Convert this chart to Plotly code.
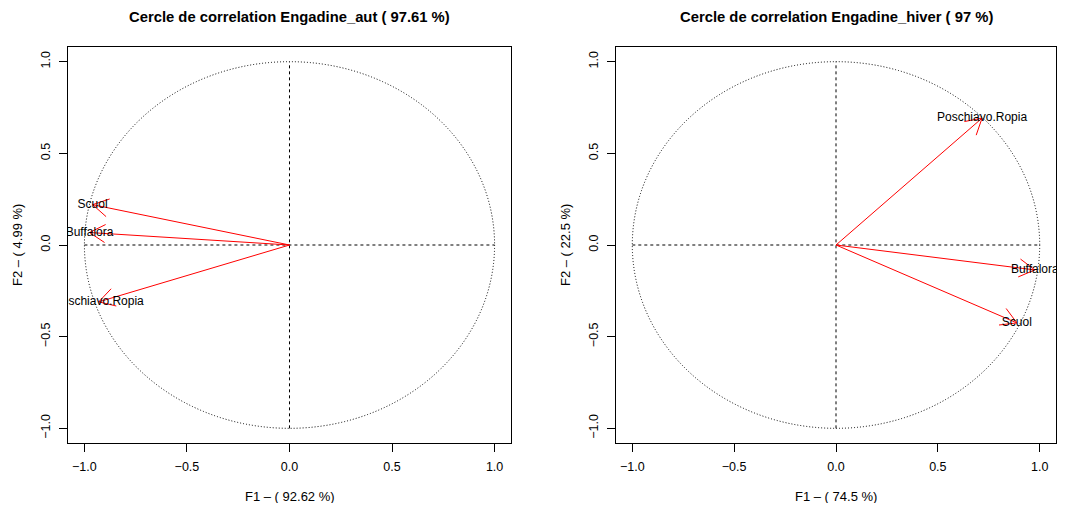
import math
import plotly.graph_objects as go

# correlations of the variables with F1 / F2
stations_aut = ["Scuol", "Buffalora", "Poschiavo.Ropia"]
f1_aut = [-0.96, -0.975, -0.93]
f2_aut = [0.22, 0.068, -0.31]

stations_hiv = ["Poschiavo.Ropia", "Buffalora", "Scuol"]
f1_hiv = [0.717, 0.976, 0.888]
f2_hiv = [0.692, -0.136, -0.425]

titles = ["Cercle de correlation Engadine_aut ( 97.61 %)",
          "Cercle de correlation Engadine_hiver ( 97 %)"]
xlabels = ["F1 – ( 92.62 %)", "F1 – ( 74.5 %)"]
ylabels = ["F2 – ( 4.99 %)", "F2 – ( 22.5 %)"]
ticks = [-1.0, -0.5, 0.0, 0.5, 1.0]

# the page body adds an 8px margin: keep the figure inside the window
W, H = 1049, 495
ML, MR, MT, MB = 60, 1, 39, 60
inner_w = W - ML - MR
# pixel extents of the two plot boxes inside the margins
boxes = [(0, 443), (548, 988)]
plot_h = H - MT - MB
RNG = [-1.08, 1.08]
sy = plot_h / (RNG[1] - RNG[0])
FONT = "Liberation Sans, Arial, sans-serif"

fig = go.Figure()
shapes = []
annotations = []


def arrow_heads(xs, ys, sx, head_px=18, ang=30):
    hx, hy = [], []
    for x, y in zip(xs, ys):
        a = math.atan2(y * sy, x * sx)
        for s in (1, -1):
            b = a + math.pi + s * math.radians(ang)
            hx += [x + head_px * math.cos(b) / sx, x, None]
            hy += [y + head_px * math.sin(b) / sy, y, None]
    return hx, hy


panels = [(stations_aut, f1_aut, f2_aut), (stations_hiv, f1_hiv, f2_hiv)]
for i, (names, fx, fy) in enumerate(panels):
    n = i + 1
    xr = "x" if n == 1 else "x2"
    yr = "y" if n == 1 else "y2"
    b0, b1 = boxes[i]
    sx = (b1 - b0) / (RNG[1] - RNG[0])

    # shafts
    lx, ly = [], []
    for x, y in zip(fx, fy):
        lx += [0, x, None]
        ly += [0, y, None]
    hx, hy = arrow_heads(fx, fy, sx)
    fig.add_trace(go.Scatter(x=lx + hx, y=ly + hy, mode="lines",
                             line=dict(color="red", width=1),
                             xaxis=xr, yaxis=yr, hoverinfo="skip", showlegend=False))
    fig.add_trace(go.Scatter(x=fx, y=fy, mode="text", text=names,
                             textposition="middle center",
                             textfont=dict(family=FONT, size=12, color="black"),
                             cliponaxis=True, xaxis=xr, yaxis=yr, showlegend=False))

    shapes.append(dict(type="circle", xref=xr, yref=yr, x0=-1, y0=-1, x1=1, y1=1,
                       line=dict(color="black", width=1, dash="1px,2px"), layer="below"))
    shapes.append(dict(type="line", xref=xr, yref=yr, x0=-1, y0=0, x1=1, y1=0,
                       line=dict(color="black", width=1, dash="3px,3px"), layer="below"))
    shapes.append(dict(type="line", xref=xr, yref=yr, x0=0, y0=-1, x1=0, y1=1,
                       line=dict(color="black", width=1, dash="3px,3px"), layer="below"))

    x0 = b0 / inner_w
    x1 = b1 / inner_w
    xc = (x0 + x1) / 2
    annotations.append(dict(text="<b>" + titles[i] + "</b>", xref="paper", yref="paper",
                            x=xc, y=1 + 30 / plot_h, xanchor="center", yanchor="middle",
                            showarrow=False, font=dict(family=FONT, size=14.8, color="black")))
    annotations.append(dict(text=xlabels[i], xref="paper", yref="paper",
                            x=xc, y=-54 / plot_h, xanchor="center", yanchor="middle",
                            showarrow=False, font=dict(family=FONT, size=13, color="black")))
    annotations.append(dict(text=ylabels[i], xref="paper", yref="paper",
                            x=x0 - 51 / inner_w, y=0.5, xanchor="center", yanchor="middle",
                            textangle=-90, showarrow=False,
                            font=dict(family=FONT, size=13, color="black")))

    axis_common = dict(range=RNG, tickvals=ticks, tickformat=".1f", showgrid=False,
                       zeroline=False, showline=True, mirror=True, linecolor="black",
                       linewidth=1, ticks="outside", ticklen=8, tickcolor="black",
                       automargin=False,
                       tickfont=dict(family=FONT, size=12.5, color="black"))
    fig.layout["xaxis" + ("" if n == 1 else "2")] = dict(
        domain=[x0, x1], anchor=yr, ticklabelstandoff=4, **axis_common)
    fig.layout["yaxis" + ("" if n == 1 else "2")] = dict(
        domain=[0, 1], anchor=xr, tickangle=-90, ticklabelstandoff=4, **axis_common)

fig.update_layout(width=W, height=H, margin=dict(l=ML, r=MR, t=MT, b=MB),
                  plot_bgcolor="white", paper_bgcolor="white",
                  shapes=shapes, annotations=annotations,
                  font=dict(family=FONT, color="black"))

fig.write_html("out.html")
